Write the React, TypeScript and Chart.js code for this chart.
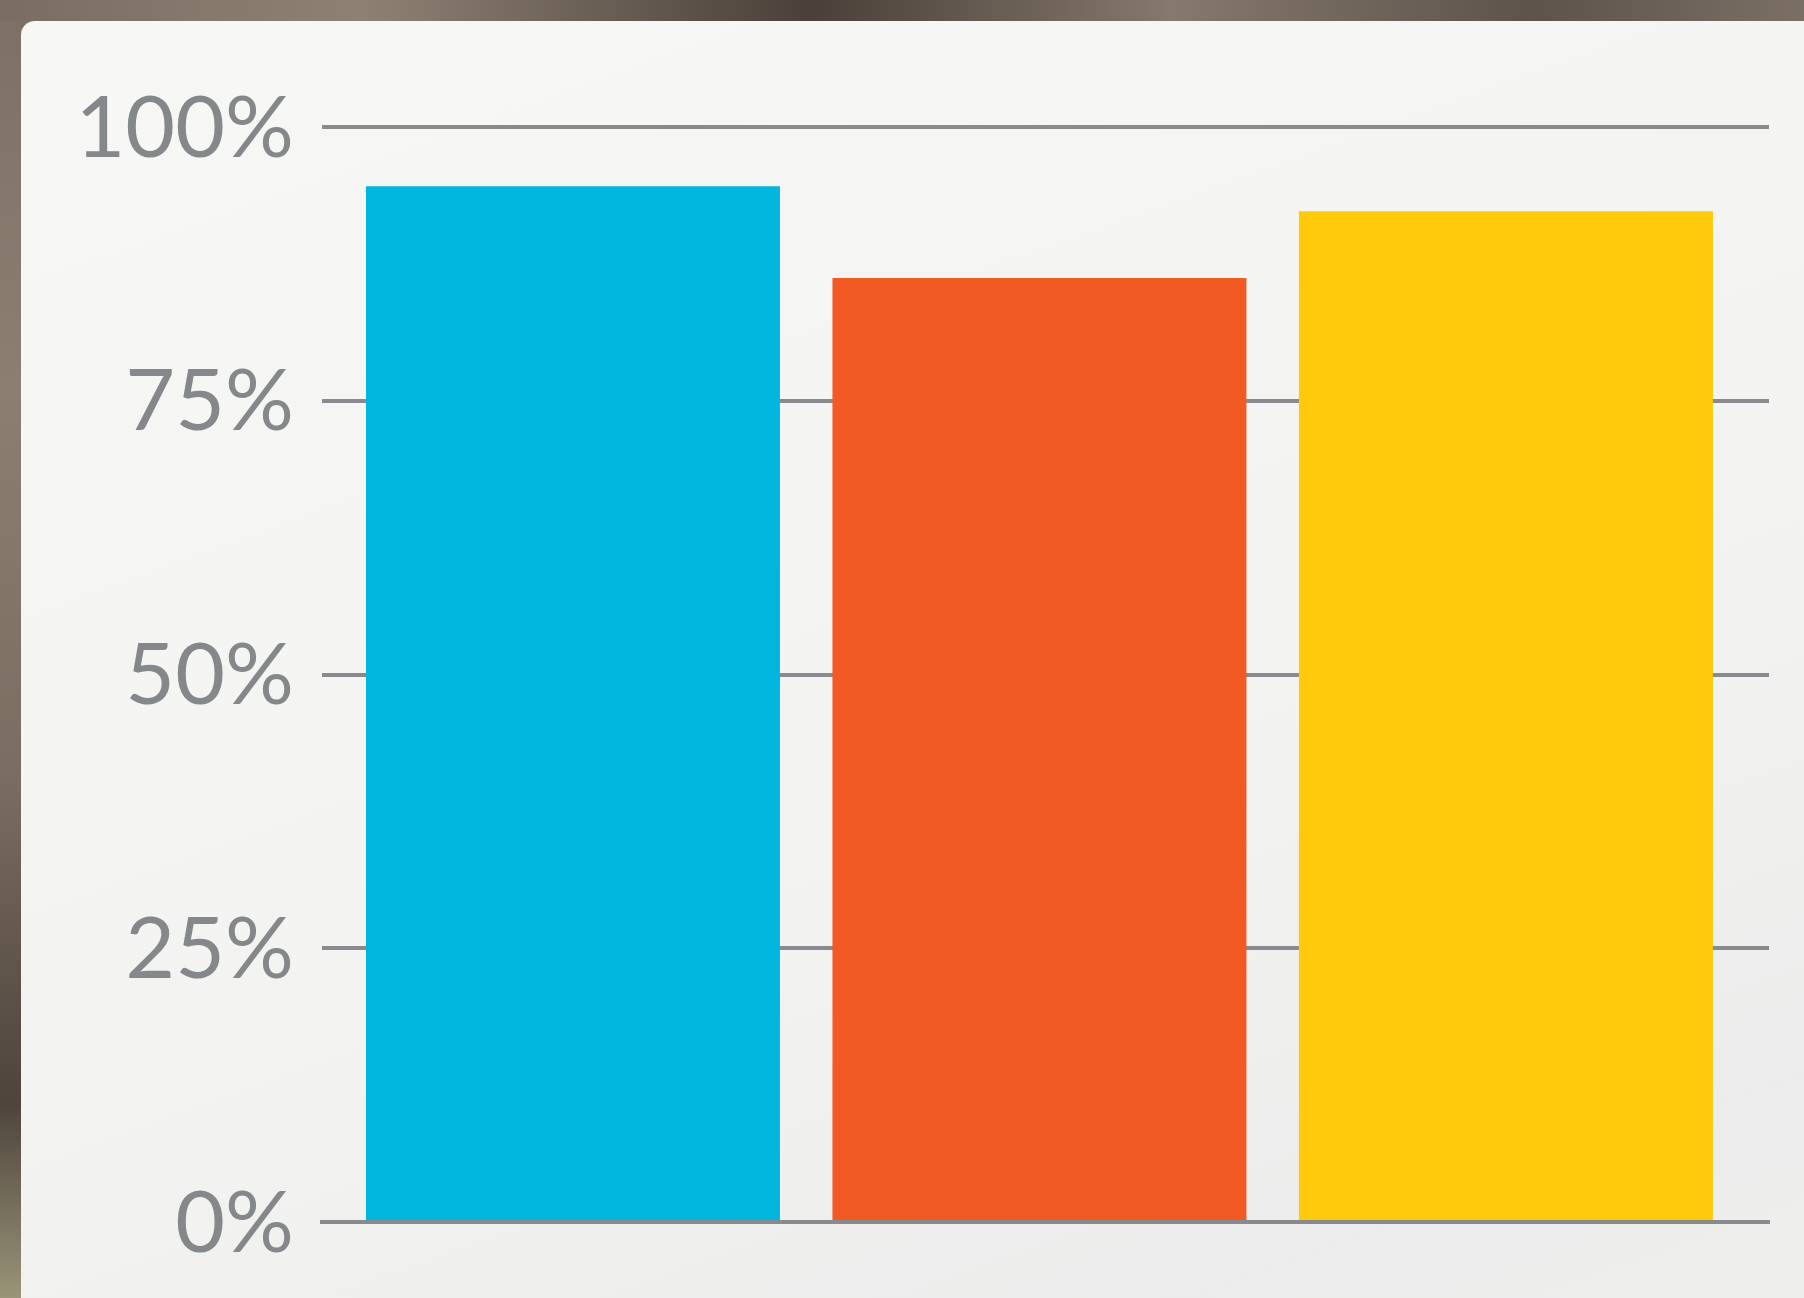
import React, { useEffect, useRef } from "react";
import { Chart, registerables } from "chart.js";

Chart.register(...registerables);

const categories = ["A", "B", "C"];
const values = [94.6, 86.2, 92.3];
const barColors = ["#00B6DF", "#F15A22", "#FFCA0B"];
const yTicks = [0, 25, 50, 75, 100];

export default function App() {
  const ref = useRef<HTMLCanvasElement | null>(null);

  useEffect(() => {
    if (!ref.current) return;
    const chart = new Chart(ref.current, {
      type: "bar",
      data: {
        labels: categories,
        datasets: [
          {
            label: "Share",
            data: values.map((v, i) => ({ x: i, y: v })),
            backgroundColor: barColors,
            borderWidth: 0,
            categoryPercentage: 1,
            barPercentage: 0.8875,
          },
        ],
      },
      options: {
        responsive: false,
        animation: false,
        devicePixelRatio: 1,
        layout: { padding: { left: 0, right: 35, top: 127, bottom: 76 } },
        plugins: {
          legend: { display: false },
          tooltip: { enabled: false },
        },
        scales: {
          x: {
            type: "linear",
            offset: false,
            min: -0.538,
            max: 2.564,
            z: 1,
            afterBuildTicks: (axis: any) => {
              axis.ticks = categories.map((_, i) => ({ value: i }));
            },
            grid: { display: false, drawTicks: false },
            ticks: { display: false },
            border: { display: true, color: "#888b8e", width: 4 },
          },
          y: {
            min: 0,
            max: 100,
            afterFit: (axis: any) => {
              axis.width = 322;
            },
            afterBuildTicks: (axis: any) => {
              axis.ticks = yTicks.map((v) => ({ value: v }));
            },
            grid: { color: "#888b8e", lineWidth: 4, drawTicks: false },
            border: { display: false },
            ticks: {
              padding: 28,
              labelOffset: 2,
              color: "#84888b",
              font: { family: "Lato, 'Open Sans', sans-serif", size: 86, lineHeight: 0.8 },
              callback: (v: any) => `${v}%`,
            },
          },
        },
      },
    });
    return () => chart.destroy();
  }, []);

  return (
    <div
      style={{
        position: "fixed",
        left: 0,
        top: 0,
        width: 1804,
        height: 1298,
        overflow: "hidden",
        background:
          "linear-gradient(180deg, #7d6f64 0%, #8c7e71 30%, #7a6c60 60%, #4e443c 85%, #9a9478 100%)",
      }}
    >
      <div
        style={{
          position: "absolute",
          left: 0,
          top: 0,
          width: 1804,
          height: 21,
          background:
            "linear-gradient(90deg, #7a6c61 0%, #8e8174 20%, #4a4039 45%, #85786c 65%, #5d534b 85%, #7b6f65 100%)",
        }}
      />
      <div
        style={{
          position: "absolute",
          left: 21,
          top: 21,
          width: 1840,
          height: 1330,
          borderRadius: 14,
          background:
            "linear-gradient(160deg, #f7f7f5 0%, #f4f4f2 40%, #f2f2f0 60%, #ececec 85%, #efefed 100%)",
        }}
      />
      <canvas
        ref={ref}
        width={1804}
        height={1298}
        style={{ position: "absolute", left: 0, top: 0, width: 1804, height: 1298 }}
      />
    </div>
  );
}
